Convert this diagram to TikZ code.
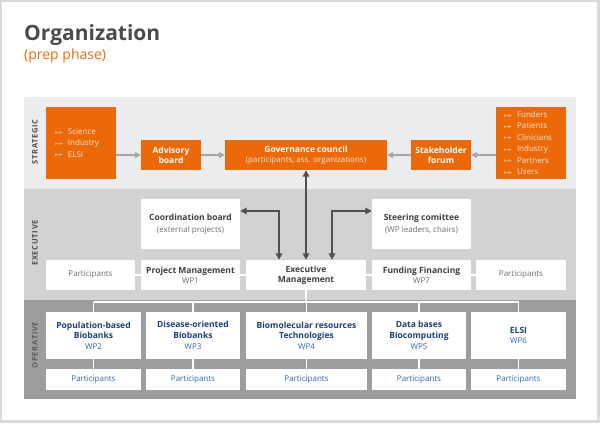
\documentclass[tikz,border=0pt]{standalone}
\usepackage{fontspec}
\setmainfont{Open Sans}
\newfontfamily\symfont{DejaVu Sans}
\usetikzlibrary{arrows.meta}
\definecolor{org}{HTML}{EB6909}
\definecolor{bandA}{HTML}{EBECEE}
\definecolor{bandB}{HTML}{D1D2D4}
\definecolor{bandC}{HTML}{9C9D9F}
\definecolor{framec}{HTML}{D9D9DA}
\definecolor{garr}{HTML}{A5A5A7}
\definecolor{darr}{HTML}{505052}
\definecolor{extxt}{HTML}{3F3F41}
\definecolor{exsub}{HTML}{6D6E70}
\definecolor{optxt}{HTML}{1E3F7C}
\definecolor{opsub}{HTML}{3766AA}
\definecolor{listtxt}{HTML}{FDE6D6}
\definecolor{tri}{HTML}{F6A874}
\definecolor{titlec}{HTML}{4B4B4D}
\definecolor{lvltxt}{HTML}{4A4A4C}
\definecolor{lvlop}{HTML}{5C5C5E}
\newcommand{\trib}{\makebox[13pt][l]{\raisebox{0.4pt}{\symfont\color{tri}\fontsize{5.5}{6}\selectfont ►►}}}
\tikzset{
 obox/.style={fill=org, text=white, inner sep=0pt, align=center, font=\fontsize{8.5}{10}\selectfont\bfseries},
 listbox/.style={fill=org, inner sep=0pt, align=left, minimum width=70pt, minimum height=72pt, text=listtxt, font=\fontsize{8}{11.4}\selectfont},
 exbox/.style={fill=white, inner sep=0pt, align=center, text=extxt, font=\fontsize{8.5}{10}\selectfont},
 opbox/.style={fill=white, inner sep=0pt, align=center, text=optxt, font=\fontsize{8.5}{10.7}\selectfont},
 garrow/.style={draw=garr, line width=1.5pt, -{Triangle[length=6pt,width=6pt]}},
 darrow/.style={draw=darr, line width=1.8pt, {Triangle[length=6.5pt,width=6.5pt]}-{Triangle[length=6.5pt,width=6.5pt]}},
 conn/.style={draw=white, line width=1.5pt},
 lvl/.style={rotate=90, text=lvltxt, font=\fontsize{7.5}{8}\selectfont\bfseries\addfontfeature{LetterSpace=10}}
}
\begin{document}
\begin{tikzpicture}[x=1pt,y=-1pt]
\useasboundingbox (0,0) rectangle (600,424);
\draw[framec, line width=2.5pt] (1.2,1) rectangle (598.6,421.6);
% bands
\fill[bandA] (24,97) rectangle (576,189);
\fill[bandB] (24,189) rectangle (576,300);
\fill[bandC] (24,300) rectangle (576,399);
% title
\node[anchor=base west, inner sep=0pt, text=titlec, font=\fontsize{21}{24}\selectfont\bfseries] (title) at (24,40) {Organization};
\node[anchor=base west, inner sep=0pt, text=org, font=\fontsize{14}{16}\selectfont] (sub) at (24,59) {(prep phase)};
% level labels
\node[lvl] (lS) at (35,142) {STRATEGIC};
\node[lvl] (lE) at (35,243) {EXECUTIVE};
\node[lvl, text=lvlop] (lO) at (35,345) {OPERATIVE};
% strategic
\node[listbox, text width=52pt] (src) at (81,143) {\trib Science\\\trib Industry\\\trib ELSI};
\node[obox, minimum width=60pt, minimum height=30pt] (adv) at (171,155) {Advisory\\board};
\node[obox, minimum width=162pt, minimum height=30pt] (gov) at (306,155) {Governance council\\{\mdseries\fontsize{8}{10}\selectfont\color{listtxt}(participants, ass. organizations)}};
\node[obox, minimum width=60pt, minimum height=30pt] (stk) at (441,155) {Stakeholder\\forum};
\node[listbox, text width=54pt] (dst) at (531,143) {\trib Funders\\\trib Patients\\\trib Clinicians\\\trib Industry\\\trib Partners\\\trib Users};
\draw[garrow] (src.east |- adv.west) -- (adv.west);
\draw[garrow] (adv.east) -- (gov.west);
\draw[garrow] (stk.west) -- (gov.east);
\draw[garrow] (dst.west |- stk.east) -- (stk.east);
% executive
\node[exbox, minimum width=99pt, minimum height=50pt] (coord) at (190.5,224) {\textbf{Coordination board}\\[2pt]{\fontsize{8}{10}\selectfont\color{exsub}(external projects)}};
\node[exbox, minimum width=99pt, minimum height=50pt] (steer) at (421.5,224) {\textbf{Steering comittee}\\[2pt]{\fontsize{8}{10}\selectfont\color{exsub}(WP leaders, chairs)}};
\node[exbox, minimum width=89pt, minimum height=30pt] (p1) at (90.5,275) {\fontsize{8}{10}\selectfont\color{exsub}Participants};
\node[exbox, minimum width=99pt, minimum height=30pt] (wp1) at (190.5,275) {\textbf{Project Management}\\{\fontsize{8}{10}\selectfont\color{exsub}WP1}};
\node[exbox, minimum width=120pt, minimum height=30pt] (exe) at (306,275) {\textbf{Executive}\\\textbf{Management}};
\node[exbox, minimum width=99pt, minimum height=30pt] (wp7) at (421.5,275) {\textbf{Funding Financing}\\{\fontsize{8}{10}\selectfont\color{exsub}WP7}};
\node[exbox, minimum width=90pt, minimum height=30pt] (p7) at (521,275) {\fontsize{8}{10}\selectfont\color{exsub}Participants};
\draw[conn] (p1.east) -- (wp1.west);
\draw[conn] (wp1.east) -- (exe.west);
\draw[conn] (exe.east) -- (wp7.west);
\draw[conn] (wp7.east) -- (p7.west);
\draw[darrow] (exe.north) -- (gov.south);
\coordinate (lk) at (279,211);
\coordinate (rk) at (332,211);
\draw[darrow] (coord.east |- lk) -- (lk) -- (lk |- exe.north);
\draw[darrow] (steer.west |- rk) -- (rk) -- (rk |- exe.north);
% operative
\node[opbox, minimum width=95pt, minimum height=47pt] (wp2) at (93.5,335.5) {\textbf{Population-based}\\\textbf{Biobanks}\\{\fontsize{8}{10}\selectfont\color{opsub}WP2}};
\node[opbox, minimum width=94pt, minimum height=47pt] (wp3) at (193,335.5) {\textbf{Disease-oriented}\\\textbf{Biobanks}\\{\fontsize{8}{10}\selectfont\color{opsub}WP3}};
\node[opbox, minimum width=121pt, minimum height=47pt] (wp4) at (306.5,335.5) {\textbf{Biomolecular resources}\\\textbf{Technologies}\\{\fontsize{8}{10}\selectfont\color{opsub}WP4}};
\node[opbox, minimum width=94pt, minimum height=47pt] (wp5) at (419,335.5) {\textbf{Data bases}\\\textbf{Biocomputing}\\{\fontsize{8}{10}\selectfont\color{opsub}WP5}};
\node[opbox, minimum width=95pt, minimum height=47pt] (wp6) at (518.5,335.5) {\textbf{ELSI}\\{\fontsize{8}{10}\selectfont\color{opsub}WP6}};
\foreach \n/\x/\w in {q2/93.5/95, q3/193/94, q4/306.5/121, q5/419/94, q6/518.5/95}{
  \node[opbox, minimum width=\w pt, minimum height=21pt, font=\fontsize{8}{10}\selectfont, text=opsub] (\n) at (\x,379.5) {Participants};
}
\coordinate (bus) at (306,302);
\draw[conn] (exe.south) -- (exe.south |- bus);
\draw[conn] (wp2.north |- bus) -- (wp6.north |- bus);
\foreach \a/\b in {wp2/q2, wp3/q3, wp4/q4, wp5/q5, wp6/q6}{
  \draw[conn] (\a.north |- bus) -- (\a.north);
  \draw[conn] (\a.south) -- (\b.north);
}
\end{tikzpicture}
\end{document}
